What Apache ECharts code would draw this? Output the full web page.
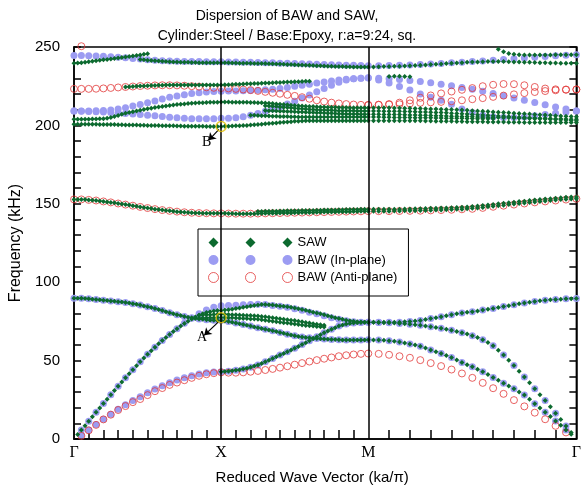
<!DOCTYPE html>
<html>
<head>
<meta charset="UTF-8">
<title>Dispersion of BAW and SAW</title>
<style>
    html, body { margin: 0; padding: 0; background: #fff; }
    #main { width: 584px; height: 490px; }
</style>
</head>
<body>
<div id="main"></div>
<script src="https://cdn.jsdelivr.net/npm/echarts@6/dist/echarts.min.js"></script>
<script type="text/javascript">
// path Γ -> X -> M -> Γ, reduced wave vector
var pathLabels = ['Γ', 'X', 'M', 'Γ'];
var segStart = [0, 1, 2];
var segLength = [1, 1, Math.SQRT2];

// BAW in-plane (kHz), 20 steps per segment, 61 values
var bawA = [null, 5.7, 11.3, 17, 22.6, 28.2, 33.7, 39, 44.2, 49.2, 54, 58.5, 62.8, 66.7, 70.3, 73.8, 77, 79.8, 82.2, 84, 85,
    85.1, 85.3, 85.6, 85.8, 85.9, 85.7, 85.2, 84.6, 84, 83.1, 82.1, 80.9, 79.8, 78.6, 77.4, 76.3, 75.4, 74.8, 74.5, 74.4,
    74.4, 74.4, 74.5, 74.9, 75.6, 76.8, 78, 79.2, 80.3, 81.2, 82.2, 83.3, 84.5, 85.6, 86.7, 87.7, 88.5, 89, 89.4, 89.6];
var bawB = [89.8, 89.7, 89.4, 89, 88.5, 88, 87.6, 87, 86.3, 85.4, 84.4, 83.2, 81.9, 80.5, 79.2, 78.2, 77.3, 76.6, 76, 75.7, 75.5,
    74.9, 74, 73, 72, 71, 70, 69, 67.9, 66.8, 65.8, 65, 64.5, 64.1, 63.8, 63.5, 63.3, 63.2, 63.2, 63.2, 63.3,
    63.1, 62.6, 61.9, 60.6, 59.1, 56.8, 54.5, 52, 48.8, 46, 42.9, 39.3, 35.6, 32, 28, 22.5, 17, 11.5, 5.8, null];
var bawC = [null, 2.5, 5.8, 9.2, 12.6, 15.8, 18.9, 21.8, 24.5, 27, 29.5, 31.9, 34, 35.9, 37.6, 39.1, 40.4, 41.4, 42.2, 42.7, 42.9,
    43.2, 43.8, 44.7, 45.8, 47.2, 49.2, 51.3, 53.5, 55.6, 57.8, 60.2, 62.6, 65.2, 67.8, 70, 72, 73.3, 74, 74.3, 74.4,
    74.3, 74.1, 73.7, 73.2, 72.5, 71.6, 70.6, 69.4, 67.8, 65.9, 63.3, 59.5, 53.5, 46.8, 39.5, 32, 24.5, 16.5, 8.3, null];
var bawTop = [244.5, 244.5, 244.4, 244.3, 244.1, 243.8, 243.5, 243.1, 242.7, 242.3, 241.9, 241.6, 241.3, 241.1, 240.9, 240.8, 240.7, 240.7, 240.6, 240.6, 240.6,
    240.5, 240.4, 240.3, 240.2, 240.1, 240, 239.9, 239.7, 239.6, 239.4, 239.3, 239.1, 239, 238.8, 238.7, 238.5, 238.4, 238.3, 238.2, 238,
    238.1, 238.2, 238.4, 238.6, 238.9, 239.2, 239.5, 239.9, 240.3, 240.7, 241.1, 241.6, 242, 242.5, 243, 243.5, 244, 244.4, 244.7, 245];
var bawU2 = [209.2, 209.2, 209.2, 209.3, 209.5, 209.9, 210.4, 211.2, 212.3, 213.4, 214.5, 215.6, 216.8, 217.9, 218.8, 219.6, 220.3, 220.8, 221.3, 221.6, 221.8,
    221.9, 222, 222.1, 222.2, 222.4, 222.7, 223.1, 223.6, 224.2, 224.9, 225.6, 226.3, 227, 227.7, 228.3, 228.9, 229.4, 229.8, 230.1, 230.3,
    230.1, 229.8, 229.3, 228.7, 228, 227.2, 226.3, 225.3, 224.2, 223, 221.7, 220.3, 218.9, 217.5, 216, 214.6, 213.2, 211.8, 210.5, 209.2];
var bawU3 = [209.2, 209.1, 208.9, 208.7, 208.5, 208.2, 207.9, 207.6, 207.2, 206.9, 206.5, 206.1, 205.6, 205.2, 204.8, 204.5, 204.3, 204.2, 204.2, 204.3, 204.5,
    204.6, 204.9, 205.5, 206.4, 207.6, 209, 210.4, 211.9, 213.6, 215.4, 217.4, 219.4, 221.4, 223.5, 225.6, 227.5, 228.9, 229.7, 230.1, 230.4,
    229, 227, 224.8, 222.5, 220, 218, 216, 213.5, 210.5, 208.3, 206.5, 205.5, 205, 205, 205.4, 206.1, 206.9, 207.7, 208.5, 209.2];

// BAW anti-plane (kHz), 20 steps per segment
var redLow = [null, 2, 5.5, 9, 12.5, 15.5, 18.5, 21, 23.5, 25.5, 28, 30.5, 32.5, 34.5, 36, 37.5, 39, 40.3, 41.3, 42, 42.5,
    42.3, 42.3, 42.5, 42.9, 43.4, 44, 44.7, 45.5, 46.4, 47.4, 48.4, 49.4, 50.3, 51.2, 52, 52.8, 53.4, 53.9, 54.3, 54.5,
    54.3, 53.7, 52.8, 51.8, 50.3, 48.4, 46.5, 44.3, 41.8, 39, 35.8, 32.4, 28.8, 24.8, 20.8, 16.8, 12.6, 8.4, 4.2, null];
var redMid = [152.8, 152.8, 152.5, 152.1, 151.5, 150.9, 150.2, 149.5, 148.8, 148, 147.3, 146.6, 146, 145.5, 145, 144.6, 144.3, 144.1, 144, 143.9, 143.9,
    143.8, 143.7, 143.7, 143.7, 143.8, 143.9, 144, 144.1, 144.2, 144.3, 144.4, 144.5, 144.6, 144.7, 144.8, 144.9, 145, 145.1, 145.2, 145.3,
    145.3, 145.3, 145.4, 145.5, 145.6, 145.8, 146, 146.2, 146.5, 146.8, 147.4, 148.1, 148.8, 149.5, 150.2, 150.9, 151.5, 152.1, 152.7, 153.2];
var redUp = [223.3, 223.3, 223.3, 223.4, 223.6, 223.9, 224.2, 224.5, 224.8, 225.1, 225.3, 225.5, 225.6, 225.6, 225.5, 225.3, 225, 224.7, 224.3, 224, 223.8,
    223.6, 223.3, 222.9, 222.5, 222, 221.4, 220.8, 220.2, 219.5, 218.8, 218, 217, 216, 215.2, 214.5, 214, 213.6, 213.3, 213.1, 213,
    213.2, 213.6, 214.5, 216, 217.6, 219.1, 220.4, 221.6, 222.7, 223.8, 225, 225.9, 226.4, 226.3, 225.6, 224.5, 223.5, 223, 222.9, 222.9];
var redUp2 = [213, 213.1, 213.3, 213.5, 214, 214.4, 214.7, 215, 215.4, 216, 216.7, 217.4, 218.2, 219, 219.8, 220.6, 221.3, 221.9, 222.4, 222.7, 222.9]; // from M
var redTop = [250.5]; // second point after Γ

// SAW (kHz), 40 steps per segment
var sawA = [89.8, 89.8, 89.7, 89.6, 89.4, 89.2, 89, 88.8, 88.5, 88.3, 88, 87.8, 87.6, 87.3, 87, 86.7, 86.3, 85.9, 85.4, 84.9,
    84.4, 83.8, 83.2, 82.6, 81.9, 81.2, 80.5, 79.8, 79.2, 78.7, 78.2, 77.7, 77.3, 76.9, 76.6, 76.3, 76, 75.8, 75.7, 75.6, 75.5,
    75.2, 74.9, 74.5, 74, 73.5, 73, 72.5, 72, 71.5, 71, 70.5, 70, 69.5, 69, 68.5, 67.9, 67.4, 66.8, 66.3, 65.8,
    65.4, 65, 64.7, 64.5, 64.3, 64.1, 63.9, 63.8, 63.6, 63.5, 63.4, 63.3, 63.2, 63.2, 63.2, 63.2, 63.2, 63.2, 63.2, 63.3,
    63.2, 63.1, 62.9, 62.6, 62.3, 61.9, 61.3, 60.6, 59.9, 59.1, 58, 56.8, 55.7, 54.5, 53.3, 52, 50.4, 48.8, 47.4, 46,
    44.5, 42.9, 41.1, 39.3, 37.5, 35.6, 33.8, 32, 30, 28, 25.3, 22.5, 19.8, 17, 14.3, 11.5, 8.7, 5.8, 3];
var sawB = [2.8, 5.7, 8.5, 11.3, 14.2, 17, 19.8, 22.6, 25.4, 28.2, 31, 33.7, 36.4, 39, 41.6, 44.2, 46.7, 49.2, 51.6, 54,
    56.3, 58.5, 60.7, 62.8, 64.8, 66.7, 68.5, 70.3, 72, 73.6, 75.1, 76.5, 77.8, 78.9, 79.8, 80.6, 81.2, 81.6, 81.9, 82,
    82.2, 82.5, 82.8, 83.2, 83.6, 84, 84.4, 84.8, 85.2, 85.5, 85.7, 85.7, 85.6, 85.4, 85.2, 84.9, 84.6, 84.3, 84, 83.6,
    83.1, 82.6, 82.1, 81.5, 80.9, 80.4, 79.8, 79.2, 78.6, 78, 77.4, 76.8, 76.3, 75.8, 75.4, 75.1, 74.8, 74.6, 74.5, 74.4,
    74.4, 74.4, 74.4, 74.4, 74.4, 74.5, 74.7, 74.9, 75.2, 75.6, 76.2, 76.8, 77.4, 78, 78.6, 79.2, 79.8, 80.3, 80.8, 81.2,
    81.7, 82.2, 82.7, 83.3, 83.9, 84.5, 85, 85.6, 86.2, 86.7, 87.2, 87.7, 88.1, 88.5, 88.8, 89, 89.2, 89.4, 89.5, 89.6];
var sawC = [42.9, 43, 43.2, 43.5, 43.8, 44.2, 44.7, 45.2, 45.8, 46.5, 47.2, 48.2, 49.2, 50.2, 51.3, 52.4, 53.5, 54.5, 55.6, 56.7,
    57.8, 59, 60.2, 61.4, 62.6, 63.9, 65.2, 66.5, 67.8, 68.9, 70, 71, 72, 72.7, 73.3, 73.7, 74, 74.2, 74.3, 74.4, 74.4,
    74.4, 74.3, 74.2, 74.1, 73.9, 73.7, 73.5, 73.2, 72.9, 72.5, 72.1, 71.6, 71.1, 70.6, 70, 69.4, 68.6, 67.8, 66.9, 65.9,
    64.7, 63.3, 61.6, 59.5, 56.6, 53.5, 50.2, 46.8, 43.2, 39.5, 35.8, 32, 28.3, 24.5, 20.5, 16.5, 12.4, 8.3, 4.2];
var sawD = [79, 79.1, 79.2, 79.3, 79.4, 79.5, 79.5, 79.5, 79.4, 79.3, 79.2, 79.1, 79, 78.8, 78.7, 78.6, 78.5, 78.2, 77.9, 77.6,
    77.3, 77, 76.7, 76.4, 76.1, 75.8, 75.5, 75.1, 74.7, 74.3, 73.9, 73.5, 73.2, 72.9, 72.6];
var sawE = [77, 77.1, 77.2, 77.3, 77.4, 77.5, 77.5, 77.5, 77.4, 77.3, 77.2, 77, 76.9, 76.8, 76.6, 76.5, 76.3, 76, 75.7, 75.4,
    75.1, 74.8, 74.5, 74.2, 73.9, 73.6, 73.3, 73, 72.7, 72.4, 72.2, 72, 71.8, 71.6, 71.5];
var sawMid1 = [152.8, 152.8, 152.8, 152.7, 152.5, 152.3, 152.1, 151.8, 151.5, 151.2, 150.9, 150.6, 150.2, 149.9, 149.5, 149.2, 148.8, 148.4, 148, 147.7,
    147.3, 147, 146.6, 146.3, 146, 145.7, 145.5, 145.2, 145, 144.8, 144.6, 144.4, 144.3, 144.2, 144.1, 144, 144, 143.9, 143.9, 143.9, 143.9,
    143.9, 143.8, 143.8, 143.7, 143.7, 143.7, 143.7, 143.7, 143.7, 143.8, 143.8, 143.9, 143.9, 144, 144, 144.1, 144.1, 144.2, 144.2, 144.3,
    144.3, 144.4, 144.4, 144.5, 144.5, 144.6, 144.6, 144.7, 144.7, 144.8, 144.8, 144.9, 144.9, 145, 145, 145.1, 145.1, 145.2, 145.2, 145.3,
    145.3, 145.3, 145.3, 145.3, 145.4, 145.4, 145.5, 145.5, 145.6, 145.7, 145.8, 145.9, 146, 146.1, 146.2, 146.3, 146.5, 146.6, 146.8, 147.1,
    147.4, 147.7, 148.1, 148.4, 148.8, 149.1, 149.5, 149.8, 150.2, 150.5, 150.9, 151.2, 151.5, 151.8, 152.1, 152.4, 152.7, 152.9, 153.1, 153.2];
var sawMid2 = [145.1, 145.1, 145.2, 145.2, 145.3, 145.3, 145.4, 145.4, 145.5, 145.5, 145.6, 145.6, 145.7, 145.7, 145.8, 145.8,
    145.9, 145.9, 146, 146, 146.1, 146.1, 146.2, 146.2, 146.3, 146.3, 146.4, 146.4, 146.5, 146.5, 146.6,
    146.5, 146.5, 146.5, 146.5, 146.6, 146.6, 146.7, 146.7, 146.8, 146.9, 147, 147.1, 147.2, 147.3, 147.4, 147.5, 147.7, 147.8, 148, 148.3,
    148.6, 148.9, 149.3, 149.6, 150, 150.3, 150.7, 151, 151.4, 151.7, 152.1, 152.4, 152.7, 153, 153.3, 153.6, 153.9, 154.1, 154.3, 154.4];
var sawTop1 = [239.7, 239.8, 240, 240.3, 240.6, 240.9, 241.2, 241.5, 241.8, 242.1, 242.4, 242.7, 243, 243.3, 243.6, 243.9, 244.2, 244.5, 244.9, 245.3, 245.7];
var sawTop2 = [242, 241.8, 241.6, 241.4, 241.2, 241, 240.9, 240.7, 240.6, 240.5, 240.4, 240.3, 240.2, 240.2, 240.1, 240.1, 240, 240, 240, 240, 240, 240, 240,
    239.9, 239.9, 239.8, 239.8, 239.7, 239.7, 239.6, 239.6, 239.5, 239.5, 239.4, 239.4, 239.3, 239.3, 239.2, 239.1, 239, 238.9, 238.8, 238.7,
    238.6, 238.5, 238.4, 238.3, 238.2, 238.1, 238, 237.9, 237.8, 237.7, 237.6, 237.5, 237.5, 237.4, 237.4, 237.3, 237.3, 237.2, 237.2, 237.2,
    237.3, 237.4, 237.5, 237.6, 237.7, 237.8, 237.9, 238, 238.2, 238.4, 238.6, 238.8, 239, 239.2, 239.4, 239.6, 239.8, 240, 240.2, 240.4,
    240.5, 240.6, 240.7, 240.7, 240.7, 240.7, 240.6, 240.5, 240.4, 240.3, 240.2, 240.1, 240, 239.9, 239.8, 239.8, 239.7, 239.7, 239.7, 239.7];
var sawTop3 = [250.5, 248.6, 247, 245.9, 245.3, 245, 244.9, 244.9, 244.9, 244.9, 244.9, 244.9, 245, 245, 245, 245, 245];
var sawNearM = [231.2, 231.3, 231.3, 231.2, 231];
var sawRed = [224.5, 224.6, 224.8, 224.9, 225.1, 225.2, 225.3, 225.4, 225.5, 225.6, 225.6, 225.7, 225.7, 225.7, 225.7, 225.7, 225.7, 225.7, 225.7, 225.7,
    225.7, 225.7, 225.7, 225.7, 225.7, 225.7, 225.8, 225.9, 226, 226.1, 226.2, 226.3, 226.4, 226.5, 226.6, 226.7, 226.8, 226.9, 227, 227.1,
    227.2, 227.3, 227.4, 227.5, 227.6, 227.7, 227.8, 227.9, 228, 228.1, 228.2];
var sawU4 = [203.9, 203.9, 203.9, 204, 204, 204.1, 204.1, 204.2, 204.3, 204.6, 205, 205.6, 206.3, 207.1, 207.7, 208.2, 208.7, 209.2, 209.7, 210.2,
    210.6, 211, 211.4, 211.8, 212.1, 212.4, 212.7, 213, 213.3, 213.5, 213.7, 213.9, 214.1, 214.3, 214.4, 214.5, 214.6, 214.7, 214.8, 214.8, 214.9,
    214.9, 214.9, 214.8, 214.8, 214.8, 214.7, 214.7, 214.6, 214.6, 214.5, 214.4, 214.3, 214.1, 213.9, 213.7, 213.5, 213.3, 213.1, 212.9, 212.7,
    212.5, 212.3, 212.2, 212.1, 212, 211.9, 211.8, 211.7, 211.6, 211.5, 211.5, 211.4, 211.4, 211.4, 211.3, 211.3, 211.3, 211.3, 211.3, 211.3,
    211.3, 211.3, 211.2, 211.2, 211.1, 211.1, 211, 210.9, 210.8, 210.7, 210.6, 210.5, 210.4, 210.3, 210.2, 210.1, 210, 209.8, 209.6, 209.4,
    209.2, 209, 208.8, 208.6, 208.4, 208.2, 208, 207.8, 207.6, 207.4, 207.2, 207, 206.8, 206.6, 206.4, 206.2, 206, 205.8, 205.6, 205.5];
var sawU5 = [200.8, 200.8, 200.8, 200.8, 200.7, 200.7, 200.7, 200.6, 200.6, 200.6, 200.5, 200.5, 200.4, 200.4, 200.3, 200.3, 200.2, 200.2, 200.1, 200.1,
    200, 200, 199.9, 199.9, 199.8, 199.8, 199.7, 199.7, 199.6, 199.6, 199.5, 199.5, 199.5, 199.4, 199.4, 199.4, 199.3, 199.3, 199.3, 199.3, 199.3,
    199.4, 199.5, 199.6, 199.7, 199.8, 199.9, 200, 200.2, 200.4, 200.6, 200.8, 201, 201.2, 201.4, 201.6, 201.8, 202, 202.2, 202.4, 202.6,
    202.7, 202.8, 202.9, 202.9, 202.9, 202.9, 202.9, 202.9, 202.9, 202.9, 202.9, 202.9, 202.9, 202.9, 202.9, 202.9, 202.9, 202.9, 202.9, 202.9,
    202.9, 202.9, 202.9, 202.9, 202.9, 202.9, 202.9, 202.9, 202.9, 202.9, 202.8, 202.8, 202.7, 202.7, 202.6, 202.6, 202.5, 202.5, 202.4, 202.4,
    202.3, 202.3, 202.2, 202.2, 202.1, 202.1, 202, 202, 202, 201.9, 201.9, 201.9, 201.9, 201.8, 201.8, 201.8, 201.8, 201.8, 201.8, 201.8];
var sawU6 = [212.5, 212.4, 212.2, 212, 211.8, 211.6, 211.4, 211.2, 211, 210.8, 210.6, 210.4, 210.2, 210.1, 210, 209.9, 209.8, 209.7, 209.6, 209.5,
    209.4, 209.4, 209.3, 209.3, 209.3, 209.2, 209.2, 209.2, 209.2,
    209.2, 209.2, 209.1, 209.1, 209, 209, 208.9, 208.8, 208.7, 208.6, 208.5, 208.4, 208.3, 208.2, 208, 207.8, 207.6, 207.4, 207.2, 207,
    206.8, 206.6, 206.4, 206.2, 206, 205.8, 205.6, 205.4, 205.2, 205, 204.8, 204.7, 204.6, 204.5, 204.4, 204.3, 204.2, 204.1, 204, 203.9];
var sawU7 = [209.5, 209.4, 209.3, 209.2, 209.1, 209, 208.9, 208.8, 208.7, 208.6, 208.5, 208.4, 208.3, 208.2, 208.1, 208, 207.9, 207.8, 207.7, 207.6,
    207.5, 207.4, 207.3, 207.3, 207.2, 207.2, 207.1, 207.1, 207.1,
    207.1, 207.1, 207, 207, 206.9, 206.9, 206.8, 206.7, 206.6, 206.5, 206.4, 206.3, 206.2, 206.1, 206, 205.9, 205.8, 205.7, 205.6, 205.5,
    205.4, 205.3, 205.2, 205.1, 205, 204.9, 204.8, 204.7, 204.6, 204.5, 204.4, 204.3, 204.2, 204.1, 204, 203.8, 203.6, 203.4, 203.2, 203];
var sawU8 = [206.5, 206.4, 206.3, 206.2, 206.1, 206, 205.9, 205.8, 205.7, 205.6, 205.6, 205.5, 205.5, 205.4, 205.4, 205.4, 205.3, 205.3, 205.3, 205.3,
    205.3, 205.3, 205.3, 205.3, 205.3, 205.3, 205.3, 205.3, 205.3, 205.3, 205.3, 205.3, 205.3,
    205.3, 205.3, 205.2, 205.2, 205.1, 205.1, 205, 205, 204.9, 204.9, 204.8, 204.8, 204.7, 204.7, 204.6, 204.6, 204.5, 204.5, 204.4, 204.4,
    204.3, 204.3, 204.2, 204.2];

// marked modes A and B at X
var markedModes = [['A', 77.3], ['B', 199.3]];

// k position of sample j when a segment has n steps
function kAt(j, n) {
    var seg = Math.min(Math.floor(j / n), 2);
    return segStart[seg] + segLength[seg] * (j / n - seg);
}

function pts(vals, n, start) {
    var out = [];
    vals.forEach(function (f, i) {
        if (f != null) out.push([kAt(start + i, n), f]);
    });
    return out;
}

var blueData = [].concat(pts(bawA, 20, 0), pts(bawB, 20, 0), pts(bawC, 20, 0),
    pts(bawTop, 20, 0), pts(bawU2, 20, 0), pts(bawU3, 20, 0));
var redData = [].concat(pts(redLow, 20, 0), pts(redMid, 20, 0), pts(redUp, 20, 0),
    pts(redUp2, 20, 40), pts(redTop, 20, 1));
var greenData = [].concat(pts(sawA, 40, 0), pts(sawB, 40, 1), pts(sawC, 40, 40),
    pts(sawD, 40, 34), pts(sawE, 40, 34), pts(sawMid1, 40, 0), pts(sawMid2, 40, 50),
    pts(sawTop1, 40, 0), pts(sawTop2, 40, 18), pts(sawTop3, 40, 104), pts(sawNearM, 40, 84), pts(sawRed, 40, 14),
    pts(sawU4, 40, 0), pts(sawU5, 40, 0), pts(sawU6, 40, 52), pts(sawU7, 40, 52), pts(sawU8, 40, 48));

var xEnd = segStart[2] + segLength[2];
var xLabelPos = [0, 1, 2, xEnd];
var xTicks = [];
for (var s = 0; s < 3; s++) {
    for (var i = 1; i < 10; i++) xTicks.push(segStart[s] + segLength[s] * i / 10);
}

var sans = "'Liberation Sans', Arial, Helvetica, sans-serif";
var serif = "'Liberation Serif', 'Times New Roman', serif";
var green = '#0c6a2f';
var blue = '#9c9cf2';
var red = '#e23a3a';
var gold = '#e2c000';

var diamondsIcon = 'path://M5,0L10,5L5,10L0,5Z M42,0L47,5L42,10L37,5Z M79,0L84,5L79,10L74,5Z';
var circlesIcon = 'path://M0,5A5,5,0,1,1,10,5A5,5,0,1,1,0,5Z M37,5A5,5,0,1,1,47,5A5,5,0,1,1,37,5Z M74,5A5,5,0,1,1,84,5A5,5,0,1,1,74,5Z';

var mCharts = echarts.init(document.getElementById('main'));

var mOptions = {
    animation: false,
    title: {
        text: 'Dispersion of BAW and SAW,\nCylinder:Steel / Base:Epoxy, r:a=9:24, sq.',
        left: 282,
        textAlign: 'center',
        top: 1,
        textStyle: {fontFamily: sans, fontSize: 14, fontWeight: 'normal', color: '#000', lineHeight: 20}
    },
    legend: {
        data: [
            {name: 'SAW', icon: diamondsIcon},
            {name: 'BAW (In-plane)', icon: circlesIcon},
            {name: 'BAW (Anti-plane)', icon: circlesIcon,
                itemStyle: {color: 'transparent', borderColor: red, borderWidth: 1}}
        ],
        orient: 'vertical',
        left: 198,
        top: 229,
        itemWidth: 84,
        itemHeight: 10,
        itemGap: 4.5,
        padding: [7, 11, 12, 10],
        borderColor: '#000',
        borderWidth: 1,
        backgroundColor: '#fff',
        selectedMode: false,
        textStyle: {fontFamily: sans, fontSize: 13, color: '#000'}
    },
    grid: {
        left: 74, right: 6, top: 47, bottom: 47,
        show: true, borderColor: '#000', borderWidth: 1.5
    },
    xAxis: {
        type: 'value',
        min: 0,
        max: xEnd,
        name: 'Reduced Wave Vector (ka/π)',
        nameLocation: 'middle',
        nameGap: 31,
        nameTextStyle: {fontFamily: sans, fontSize: 15, color: '#000', padding: [0, 26, 0, 0]},
        axisLine: {lineStyle: {color: '#000', width: 1.5}},
        axisTick: {inside: true, length: 9, customValues: xTicks, lineStyle: {color: '#000', width: 1.5}},
        axisLabel: {
            customValues: xLabelPos,
            margin: 6,
            fontFamily: serif,
            fontSize: 16,
            color: '#000',
            formatter: function (v) {
                for (var i = 0; i < xLabelPos.length; i++) {
                    if (Math.abs(xLabelPos[i] - v) < 1e-6) return pathLabels[i];
                }
                return '';
            }
        },
        splitLine: {show: false}
    },
    yAxis: [{
        type: 'value',
        min: 0,
        max: 250,
        interval: 10,
        name: 'Frequency (kHz)',
        nameLocation: 'middle',
        nameGap: 48,
        nameTextStyle: {fontFamily: sans, fontSize: 16, color: '#000'},
        axisLine: {show: true, lineStyle: {color: '#000', width: 1.5}},
        axisTick: {inside: true, length: 7, lineStyle: {color: '#000', width: 1.5}},
        axisLabel: {
            margin: 14,
            fontFamily: sans,
            fontSize: 15,
            color: '#000',
            formatter: function (v) { return v % 50 === 0 ? v : ''; }
        },
        splitLine: {show: false}
    }, {
        type: 'value',
        min: 0,
        max: 250,
        interval: 10,
        position: 'right',
        axisLine: {show: true, lineStyle: {color: '#000', width: 1.5}},
        axisTick: {inside: true, length: 7, lineStyle: {color: '#000', width: 1.5}},
        axisLabel: {show: false},
        splitLine: {show: false}
    }],
    series: [{
        name: 'BAW (In-plane)',
        type: 'scatter',
        symbol: 'circle',
        symbolSize: 7,
        itemStyle: {color: blue, opacity: 1},
        data: blueData,
        z: 2,
        markLine: {
            silent: true,
            symbol: 'none',
            label: {show: false},
            lineStyle: {color: '#000', width: 1.5, type: 'solid'},
            data: [{xAxis: 1}, {xAxis: 2}]
        }
    }, {
        name: 'BAW (Anti-plane)',
        type: 'scatter',
        symbol: 'circle',
        symbolSize: 7,
        clip: false,
        itemStyle: {color: 'transparent', borderColor: red, borderWidth: 1},
        data: redData,
        z: 3
    }, {
        name: 'SAW',
        type: 'scatter',
        symbol: 'diamond',
        symbolSize: 5,
        itemStyle: {color: green, opacity: 1},
        data: greenData,
        z: 4
    }, {
        name: 'marks',
        type: 'scatter',
        symbol: 'circle',
        symbolSize: 10,
        itemStyle: {color: 'transparent', borderColor: gold, borderWidth: 1.5},
        data: markedModes.map(function (m) { return [1, m[1]]; }),
        z: 6,
        markLine: {
            silent: true,
            symbol: ['none', 'arrow'],
            symbolSize: 7,
            lineStyle: {color: '#000', width: 1.2, type: 'solid'},
            label: {show: true, position: 'end', formatter: '{b}', fontFamily: serif, fontSize: 14, color: '#000', distance: 3},
            data: [
                [{name: 'A', coord: [0.98, 74.5]}, {coord: [0.885, 66.1]}],
                [{name: 'B', coord: [0.985, 197.5]}, {coord: [0.915, 190.5]}]
            ]
        }
    }]
};

mCharts.setOption(mOptions);
</script>
</body>
</html>
